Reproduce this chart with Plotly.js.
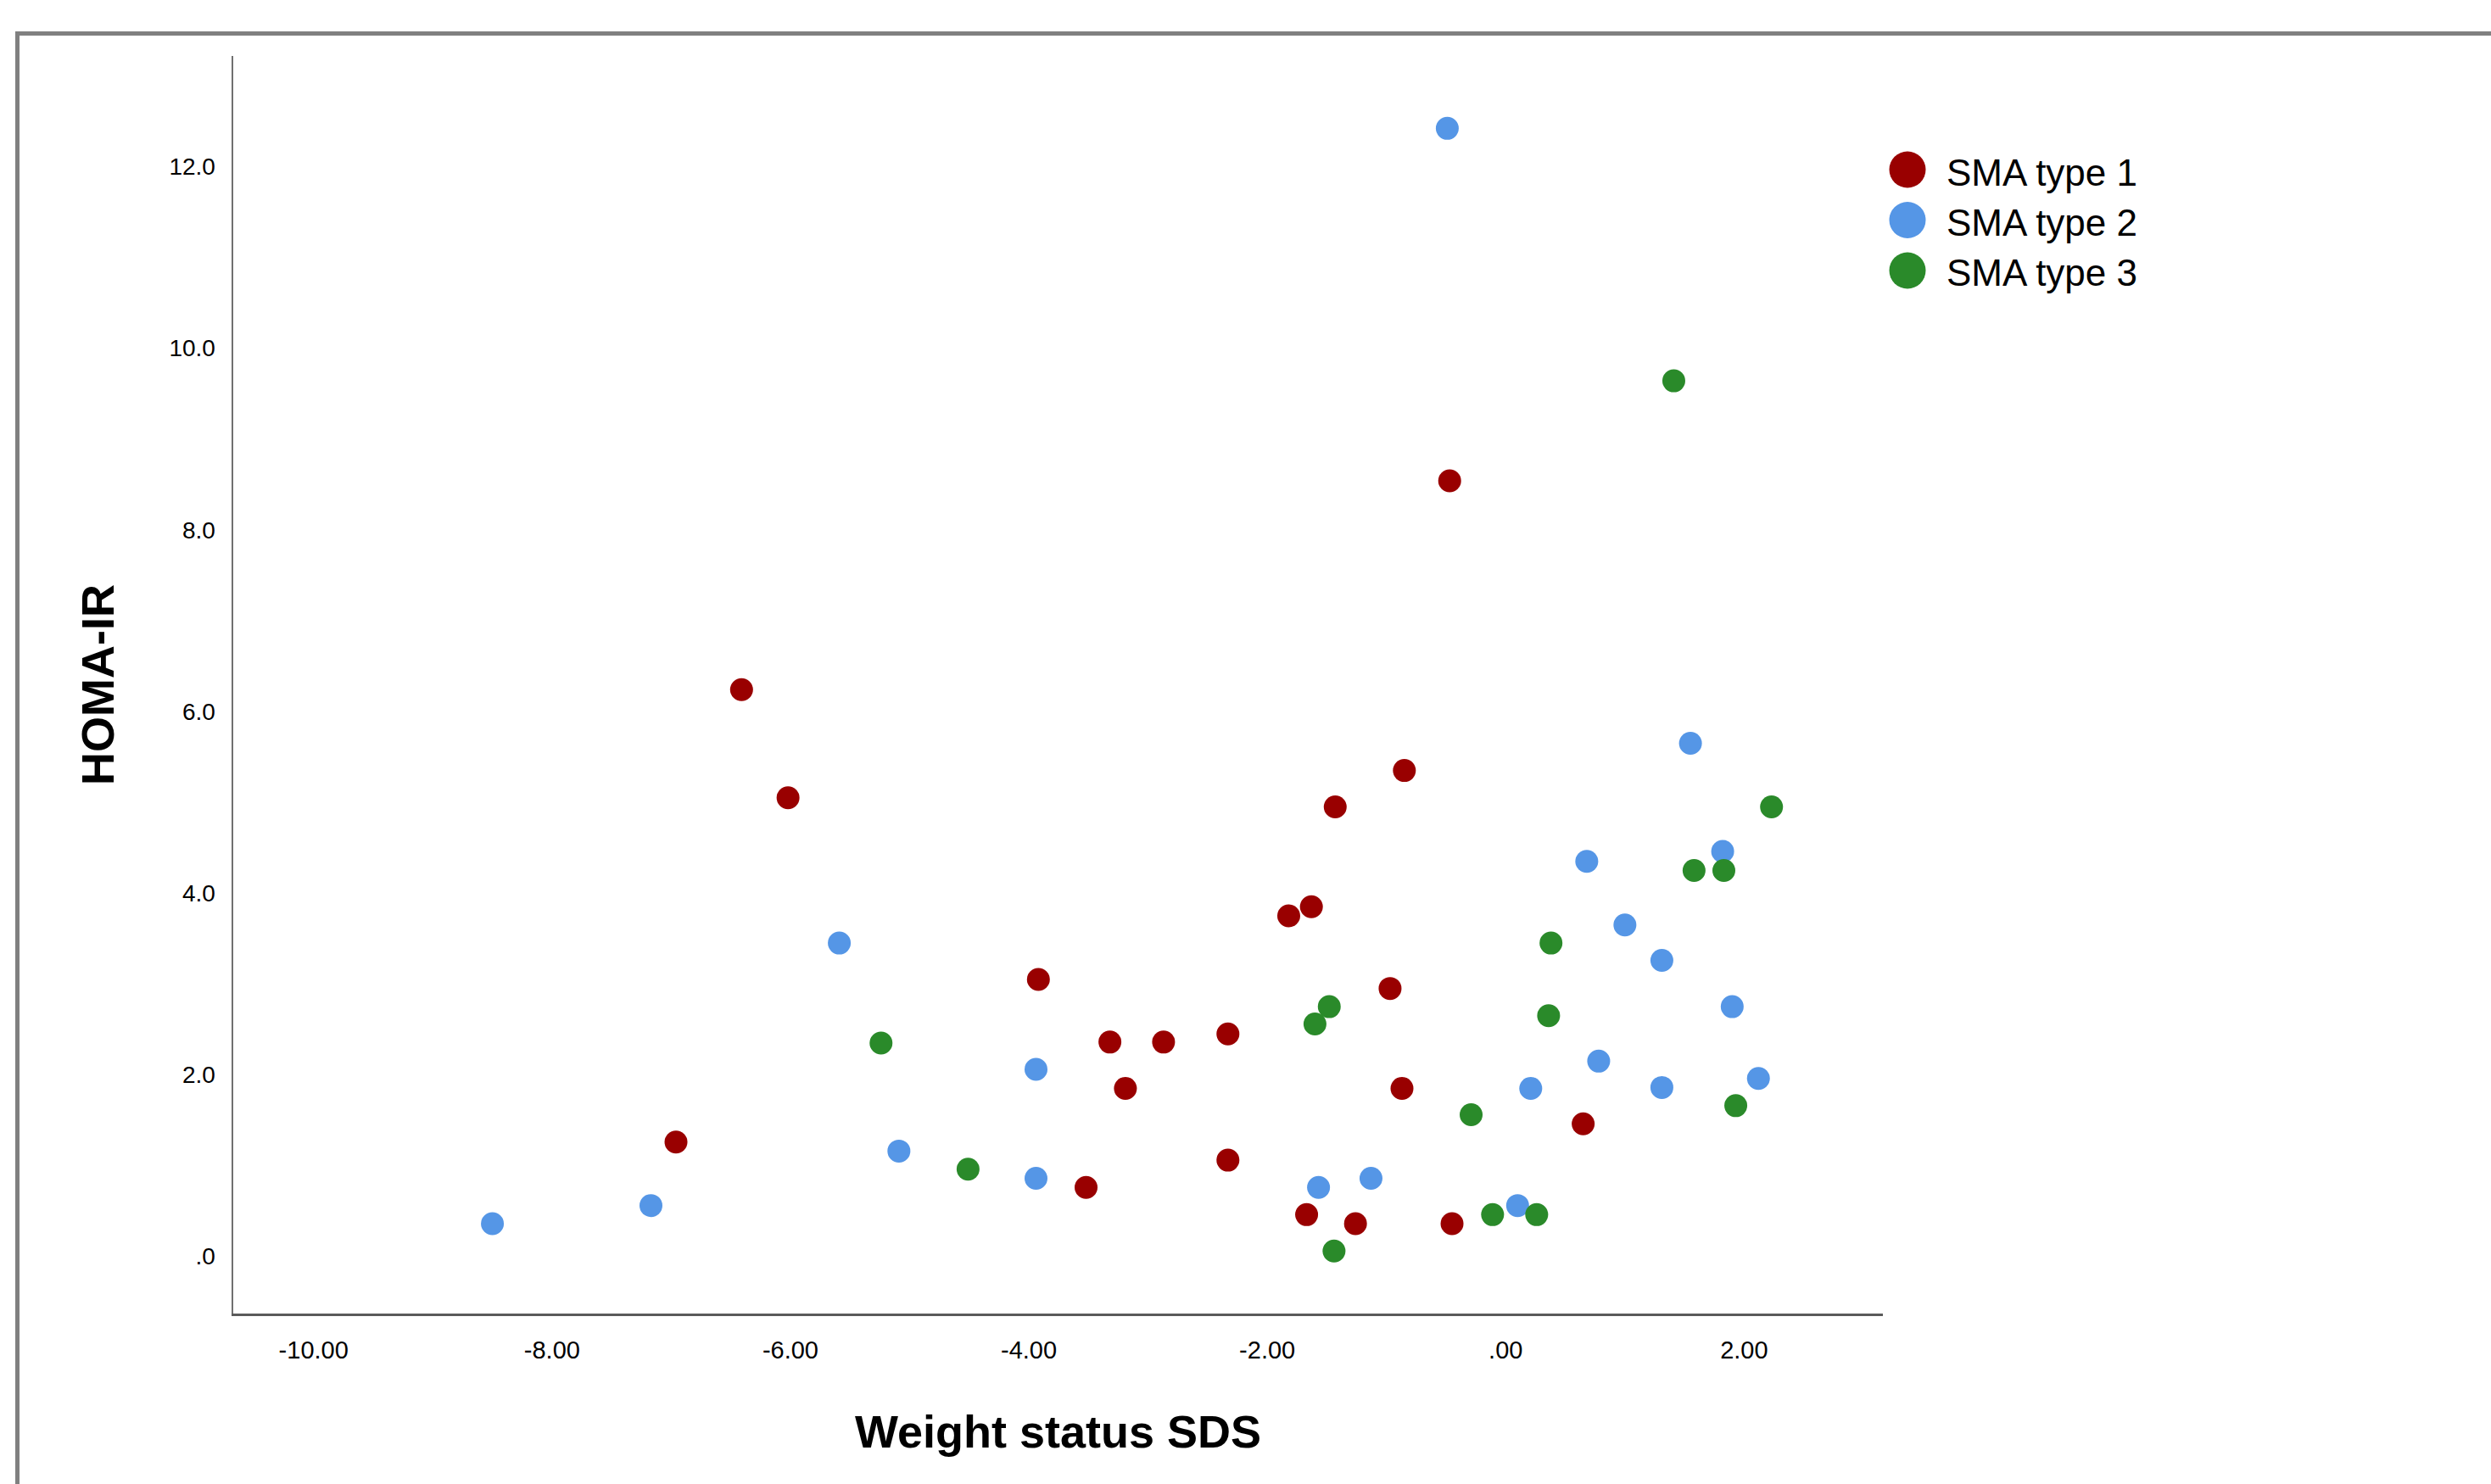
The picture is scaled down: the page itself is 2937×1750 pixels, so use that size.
<!DOCTYPE html>
<html>
<head>
<meta charset="utf-8">
<script src="https://cdn.plot.ly/plotly-3.0.1.min.js"></script>
<style>
  html, body { margin: 0; padding: 0; background: #ffffff; }
  #chart { width: 2937px; height: 1750px; }
</style>
</head>
<body>
<div id="chart"></div>
<script>
// ---- Data ----
const seriesNames = ['SMA type 1', 'SMA type 2', 'SMA type 3'];

const type1X = [-6.41, -6.02, -6.96, -3.92, -3.32, -2.87, -3.19, -3.52, -2.33, -2.33, -1.82, -1.63, -1.43, -0.85, -0.97, -0.87, -1.67, -1.26, -0.47, -0.45, 0.65];
const type1Y = [6.24, 5.05, 1.26, 3.05, 2.36, 2.36, 1.85, 0.76, 2.45, 1.06, 3.75, 3.85, 4.95, 5.35, 2.95, 1.85, 0.46, 0.36, 8.54, 0.36, 1.46];

const type2X = [-8.50, -7.17, -5.59, -5.09, -3.94, -3.94, -1.57, -1.13, -0.49, 0.10, 0.21, 0.68, 0.78, 1.00, 1.31, 1.31, 1.55, 1.82, 1.90, 2.12];
const type2Y = [0.36, 0.56, 3.45, 1.16, 2.06, 0.86, 0.76, 0.86, 12.42, 0.56, 1.85, 4.35, 2.15, 3.65, 3.26, 1.86, 5.65, 4.46, 2.75, 1.96];

const type3X = [-5.24, -4.51, -1.60, -1.48, -1.44, -0.29, -0.11, 0.26, 0.36, 0.38, 1.41, 1.58, 1.83, 1.93, 2.23];
const type3Y = [2.35, 0.96, 2.56, 2.75, 0.06, 1.56, 0.46, 0.46, 2.65, 3.45, 9.64, 4.25, 4.25, 1.66, 4.95];

const xTickVals = [-10, -8, -6, -4, -2, 0, 2];
const xTickText = ['-10.00', '-8.00', '-6.00', '-4.00', '-2.00', '.00', '2.00'];
const yTickVals = [0, 2, 4, 6, 8, 10, 12];
const yTickText = ['.0', '2.0', '4.0', '6.0', '8.0', '10.0', '12.0'];

const xTitle = 'Weight status SDS';
const yTitle = 'HOMA-IR';

// ---- Styling ----
const colors = ['#990000', '#5596E6', '#2A8A2A'];
const markerSize = 27;

const W = 2937, H = 1750;
const margin = { l: 275, r: W - 2220, t: 66, b: H - 1549, pad: 0 };
const plotW = W - margin.l - margin.r;
const plotH = H - margin.t - margin.b;
const px2paperX = px => (px - margin.l) / plotW;
const px2paperY = py => (H - margin.b - py) / plotH;

const xs = [type1X, type2X, type3X];
const ys = [type1Y, type2Y, type3Y];

const traces = seriesNames.map((name, i) => ({
  type: 'scatter',
  mode: 'markers',
  name: name,
  x: xs[i],
  y: ys[i],
  marker: { color: colors[i], size: markerSize, line: { width: 0 } },
  showlegend: false,
  hoverinfo: 'x+y+name'
}));

// custom legend (big markers like the reference)
const legendRowsY = [200, 259.5, 319];
const legendMarkerX = 2249;
const legendTextX = 2293;
const shapes = [];
const annotations = [];
seriesNames.forEach((name, i) => {
  shapes.push({
    type: 'circle', xref: 'paper', yref: 'paper',
    xsizemode: 'pixel', ysizemode: 'pixel',
    xanchor: px2paperX(legendMarkerX), yanchor: px2paperY(legendRowsY[i]),
    x0: -21.5, x1: 21.5, y0: -21.5, y1: 21.5,
    fillcolor: colors[i], line: { width: 0 }
  });
  annotations.push({
    xref: 'paper', yref: 'paper',
    x: px2paperX(legendTextX), y: px2paperY(legendRowsY[i] + 3),
    xanchor: 'left', yanchor: 'middle',
    text: name, showarrow: false,
    font: { family: 'Liberation Sans, Arial, sans-serif', size: 44, color: '#000000' }
  });
});

// outer frame
shapes.push({
  type: 'rect', xref: 'paper', yref: 'paper', layer: 'above',
  x0: px2paperX(20.5), x1: px2paperX(3100),
  y0: px2paperY(1900), y1: px2paperY(39.5),
  line: { color: '#808080', width: 5 }, fillcolor: 'rgba(0,0,0,0)'
});

const layout = {
  width: W, height: H,
  margin: margin,
  paper_bgcolor: '#ffffff',
  plot_bgcolor: '#ffffff',
  showlegend: false,
  xaxis: {
    range: [-10.674, 3.164],
    tickmode: 'array', tickvals: xTickVals, ticktext: xTickText,
    ticks: '', ticklabelstandoff: 15,
    tickfont: { family: 'Liberation Sans, Arial, sans-serif', size: 29, color: '#000000' },
    showgrid: false, zeroline: false,
    showline: true, linecolor: '#5a5a5a', linewidth: 3,
    title: { text: xTitle, standoff: 63,
      font: { family: 'Liberation Sans, Arial, sans-serif', size: 54, color: '#000000', weight: 'bold' } }
  },
  yaxis: {
    range: [-0.629, 13.217],
    tickmode: 'array', tickvals: yTickVals, ticktext: yTickText,
    ticks: '', ticklabelstandoff: 13,
    tickfont: { family: 'Liberation Sans, Arial, sans-serif', size: 28, color: '#000000' },
    showgrid: false, zeroline: false,
    showline: true, linecolor: '#707070', linewidth: 2.5,
    title: { text: yTitle, standoff: 48,
      font: { family: 'Liberation Sans, Arial, sans-serif', size: 54, color: '#000000', weight: 'bold' } }
  },
  shapes: shapes,
  annotations: annotations
};

Plotly.newPlot('chart', traces, layout, { displayModeBar: false, staticPlot: true });
</script>
</body>
</html>
